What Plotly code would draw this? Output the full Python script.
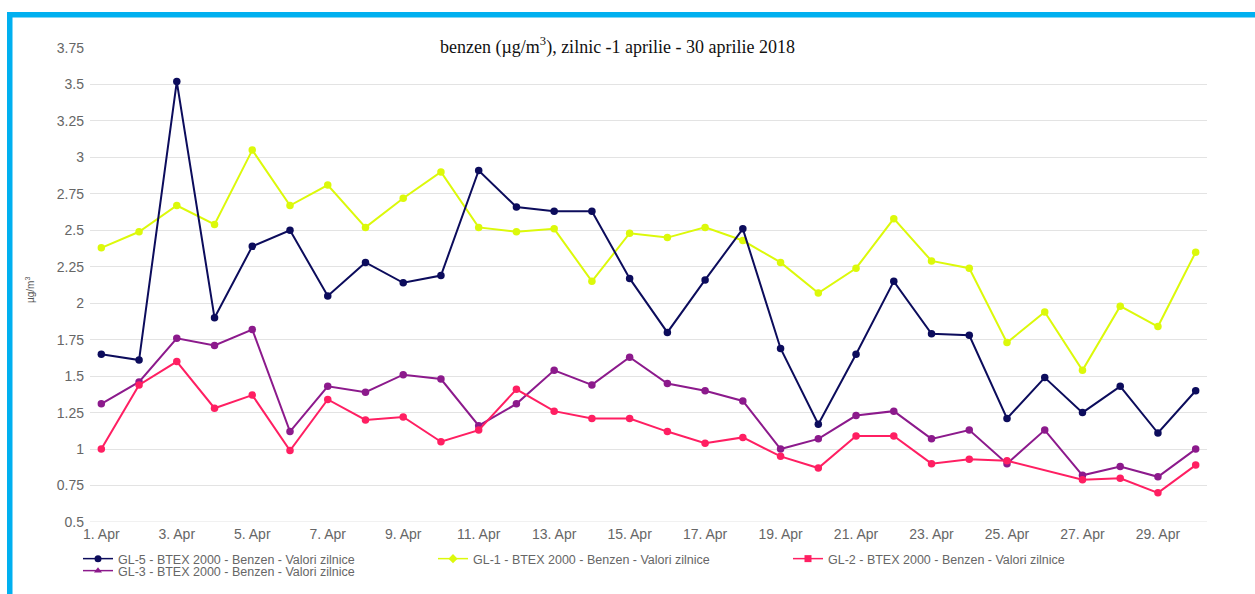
import plotly.graph_objects as go

days = list(range(1, 31))
x_tick_vals = list(range(1, 30, 2))
x_tick_text = [f"{d}. Apr" for d in x_tick_vals]
y_tick_vals = [0.5, 0.75, 1, 1.25, 1.5, 1.75, 2, 2.25, 2.5, 2.75, 3, 3.25, 3.5, 3.75]
y_tick_text = ["0.5", "0.75", "1", "1.25", "1.5", "1.75", "2", "2.25", "2.5", "2.75", "3", "3.25", "3.5", "3.75"]

gl5 = [1.65, 1.61, 3.52, 1.90, 2.39, 2.50, 2.05, 2.28, 2.14, 2.19, 2.91, 2.66, 2.63, 2.63, 2.17,
       1.80, 2.16, 2.51, 1.69, 1.17, 1.65, 2.15, 1.79, 1.78, 1.21, 1.49, 1.25, 1.43, 1.11, 1.40]
gl1 = [2.38, 2.49, 2.67, 2.54, 3.05, 2.67, 2.81, 2.52, 2.72, 2.90, 2.52, 2.49, 2.51, 2.15, 2.48,
       2.45, 2.52, 2.43, 2.28, 2.07, 2.24, 2.58, 2.29, 2.24, 1.73, 1.94, 1.54, 1.98, 1.84, 2.35]
gl2 = [1.00, 1.44, 1.60, 1.28, 1.37, 0.99, 1.34, 1.20, 1.22, 1.05, 1.13, 1.41, 1.26, 1.21, 1.21,
       1.12, 1.04, 1.08, 0.95, 0.87, 1.09, 1.09, 0.90, 0.93, 0.92, None, 0.79, 0.80, 0.70, 0.89]
gl3 = [1.31, 1.46, 1.76, 1.71, 1.82, 1.12, 1.43, 1.39, 1.51, 1.48, 1.16, 1.31, 1.54, 1.44, 1.63,
       1.45, 1.40, 1.33, 1.00, 1.07, 1.23, 1.26, 1.07, 1.13, 0.90, 1.13, 0.82, 0.88, 0.81, 1.00]

names = {
    "gl5": "GL-5 - BTEX 2000 - Benzen - Valori zilnice",
    "gl1": "GL-1 - BTEX 2000 - Benzen - Valori zilnice",
    "gl2": "GL-2 - BTEX 2000 - Benzen - Valori zilnice",
    "gl3": "GL-3 - BTEX 2000 - Benzen - Valori zilnice",
}
colors = {"gl5": "#0c0c5c", "gl1": "#dcf90a", "gl2": "#ff1f62", "gl3": "#8c1a8c"}
symbols = {"gl5": "circle", "gl1": "diamond", "gl2": "square", "gl3": "triangle-up"}
series = {"gl5": gl5, "gl1": gl1, "gl2": gl2, "gl3": gl3}
legend_of = {"gl5": "legend", "gl1": "legend", "gl2": "legend", "gl3": "legend2"}

fig = go.Figure()
for key in ["gl1", "gl5", "gl3", "gl2"]:
    fig.add_trace(go.Scatter(
        x=days, y=series[key], mode="lines+markers", connectgaps=True,
        line=dict(color=colors[key], width=2),
        marker=dict(color=colors[key], size=7.5, symbol="circle"),
        showlegend=False, hoverinfo="x+y",
    ))
for key in ["gl5", "gl1", "gl2", "gl3"]:
    fig.add_trace(go.Scatter(
        x=[None], y=[None], mode="lines+markers", name=names[key],
        line=dict(color=colors[key], width=1.5),
        marker=dict(color=colors[key], size=7, symbol=symbols[key]),
        legend=legend_of[key], showlegend=True,
    ))

W, H = 1255, 594
L, R, T, B = 90, 1207, 48, 522
pw, ph = R - L, B - T

def px(xp):
    return (xp - L) / pw

def py(yp):
    return (B - yp) / ph

grid = "#e3e3e3"
sans = "Liberation Sans, Arial, sans-serif"
tick_font = dict(family=sans, size=14, color="#666666")
leg_font = dict(family=sans, size=12.5, color="#666666")

fig.update_layout(
    width=W, height=H,
    margin=dict(l=L, r=W - R, t=T, b=H - B, autoexpand=False),
    paper_bgcolor="white", plot_bgcolor="white",
    xaxis=dict(range=[0.7, 30.3], tickvals=x_tick_vals, ticktext=x_tick_text,
               showgrid=False, zeroline=False, showline=False, ticks="",
               tickfont=tick_font, ticklabelstandoff=2),
    yaxis=dict(range=[0.5, 3.75], tickvals=y_tick_vals, ticktext=y_tick_text,
               showgrid=True, gridcolor=grid, gridwidth=1, zeroline=False,
               showline=False, ticks="", tickfont=tick_font, ticklabelstandoff=5),
    legend=dict(orientation="h", x=px(78), y=py(544), xanchor="left", yanchor="top",
                entrywidth=310, itemwidth=30, bgcolor="rgba(0,0,0,0)",
                font=leg_font, tracegroupgap=0),
    legend2=dict(orientation="h", x=px(78), y=py(556), xanchor="left", yanchor="top",
                 itemwidth=30, bgcolor="rgba(0,0,0,0)", font=leg_font),
    showlegend=True,
)

fig.add_annotation(
    text="benzen (µg/m<sup>3</sup>), zilnic -1 aprilie - 30 aprilie 2018",
    xref="paper", yref="paper", x=px(617), y=py(46), xanchor="center", yanchor="middle",
    showarrow=False, bgcolor="white",
    font=dict(family="Liberation Serif, Times New Roman, serif", size=18, color="#111111"),
)
fig.add_annotation(
    text="µg/m<sup>3</sup>", textangle=-90,
    xref="paper", yref="paper", x=px(30), y=py(290), xanchor="center", yanchor="middle",
    showarrow=False, font=dict(family=sans, size=10, color="#555555"),
)
fig.add_shape(type="line", xref="paper", yref="y", x0=0, x1=1, y0=0.5, y1=0.5,
              line=dict(color=grid, width=1), layer="below")
frame = "#00b0f0"
fig.add_shape(type="rect", xref="paper", yref="paper", x0=px(7), x1=px(1256), y0=py(17.5), y1=py(12),
              fillcolor=frame, line=dict(width=0), layer="above")
fig.add_shape(type="rect", xref="paper", yref="paper", x0=px(7), x1=px(12.5), y0=py(600), y1=py(12),
              fillcolor=frame, line=dict(width=0), layer="above")

fig.write_html("out.html", config={"displayModeBar": False},
               post_script="document.body.style.margin='0';document.body.style.overflow='hidden';")
